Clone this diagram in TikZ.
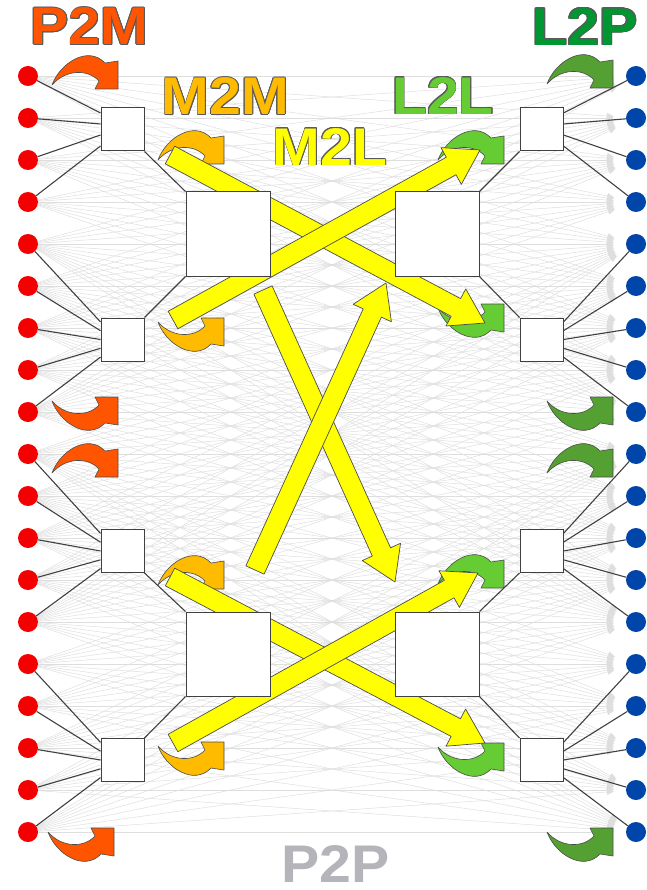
\documentclass[tikz,border=0pt]{standalone}
\usepackage{fontspec}
\setmainfont{Liberation Sans}
\usepackage{graphicx}
\usepackage{contour}
\contourlength{0.7pt}
\usetikzlibrary{arrows.meta,calc,backgrounds}

\definecolor{p2mcol}{RGB}{255,85,0}
\definecolor{m2mcol}{RGB}{255,187,0}
\definecolor{m2lcol}{RGB}{255,255,0}
\definecolor{l2lcol}{RGB}{102,204,51}
\definecolor{l2pcol}{RGB}{0,150,50}
\definecolor{l2phook}{RGB}{85,160,50}
\definecolor{p2pcol}{RGB}{180,180,186}
\definecolor{srccol}{RGB}{245,0,0}
\definecolor{trgcol}{RGB}{0,70,170}

% curved operator arrow, local size 66 x 34
\tikzset{
  pics/hook/.style={code={
    \filldraw[fill=#1, draw=black!70, line width=0.6pt, line join=round]
      (0,30) .. controls (8,8) and (36,-10) .. (53,8) -- (66,6) -- (66,34)
      -- (43,34) -- (47,26) .. controls (36,14) and (14,14) .. (0,30) -- cycle;
  }},
}

% fat M2L arrow from #1 to #2
\newcommand{\mtol}[2]{%
  \coordinate (hb) at ($(#2)!33pt!(#1)$);
  \filldraw[m2l] ($(#1)!10pt!90:(#2)$) -- ($(hb)!10pt!-90:(#1)$)
    -- ($(hb)!21pt!-90:(#1)$) -- (#2) -- ($(hb)!21pt!90:(#1)$)
    -- ($(hb)!10pt!90:(#1)$) -- ($(#1)!10pt!-90:(#2)$) -- cycle;
}
% outlined operator name
\newcommand{\opname}[1]{\scalebox{1.08}[1]{\contour{black!65}{#1}}}

\begin{document}
\begin{tikzpicture}[x=1pt, y=-1pt,
  part/.style={circle, minimum size=20pt, inner sep=0pt},
  leaf/.style={draw=black!75, fill=white, minimum size=43pt, inner sep=0pt, line width=1pt},
  cell/.style={leaf, minimum size=84pt},
  tree/.style={black!75, line width=1.1pt},
  p2p/.style={black!13, line width=0.5pt, -{Triangle[length=7pt,width=6pt]}, shorten >=12pt},
  m2l/.style={fill=m2lcol, draw=black!70, line width=0.7pt, line join=round},
  lbl/.style={inner sep=0pt, font=\fontsize{53}{53}\selectfont\bfseries}]
\useasboundingbox (0,0) rectangle (646,890);

% particles: sources left, targets right
\foreach \i in {0,...,18} {
  \node[part, fill=srccol] (l\i) at (28,{76+42*\i}) {};
  \node[part, fill=trgcol] (r\i) at (636,{76+42*\i}) {};
}

% leaves and upper level cells
\foreach \b/\y in {1/129.5, 2/339.5, 3/551, 4/760} {
  \node[leaf] (lb\b) at (122.5,\y) {};
  \node[leaf] (rb\b) at (541.5,\y) {};
}
\node[cell] (m1) at (228,234) {};
\node[cell] (m2) at (228,654) {};
\node[cell] (loc1) at (437,234) {};
\node[cell] (loc2) at (437,654) {};

% particles to leaves
\foreach \b/\first/\n in {1/0/4, 2/4/5, 3/9/5, 4/14/5} {
  \pgfmathtruncatemacro\last{\n-1}
  \foreach \k in {0,...,\last} {
    \pgfmathtruncatemacro\i{\first+\k}
    \pgfmathsetmacro\pos{(\k+0.5)/\n}
    \draw[tree] (l\i) -- ($(lb\b.north west)!\pos!(lb\b.south west)$);
    \draw[tree] (r\i) -- ($(rb\b.north east)!\pos!(rb\b.south east)$);
  }
}

% leaves to cells
\draw[tree] (lb1.south east) -- (m1.north west);
\draw[tree] (lb2.north east) -- (m1.south west);
\draw[tree] (lb3.south east) -- (m2.north west);
\draw[tree] (lb4.north east) -- (m2.south west);
\draw[tree] (loc1.north east) -- (rb1.south west);
\draw[tree] (loc1.south east) -- (rb2.north west);
\draw[tree] (loc2.north east) -- (rb3.south west);
\draw[tree] (loc2.south east) -- (rb4.north west);

\begin{scope}[on background layer]
% P2P: near field, neighbouring leaves
\foreach \i in {0,...,18} {
  \pgfmathtruncatemacro\gi{\i<4 ? 0 : int((\i-4)/5)+1}
  \foreach \j in {0,...,18} {
    \pgfmathtruncatemacro\gj{\j<4 ? 0 : int((\j-4)/5)+1}
    \pgfmathtruncatemacro\dg{abs(\gi-\gj)}
    \ifnum\dg<2 \draw[p2p] (l\i) -- (r\j); \fi
  }
}

% P2M
\pic at (52,55) {hook=p2mcol};
\pic[yscale=-1] at (52,431) {hook=p2mcol};
\pic at (52,443) {hook=p2mcol};
\pic[yscale=-1] at (48,862) {hook=p2mcol};
% M2M
\pic at (158,130) {hook=m2mcol};
\pic[yscale=-1] at (158,352) {hook=m2mcol};
\pic at (158,555) {hook=m2mcol};
\pic[yscale=-1] at (158,776) {hook=m2mcol};
% L2L
\pic at (438,130) {hook=l2lcol};
\pic[yscale=-1] at (438,338) {hook=l2lcol};
\pic at (438,554) {hook=l2lcol};
\pic[yscale=-1] at (438,777) {hook=l2lcol};
% L2P
\pic at (547,54) {hook=l2phook};
\pic[yscale=-1] at (547,431) {hook=l2phook};
\pic at (547,443) {hook=l2phook};
\pic[yscale=-1] at (547,862) {hook=l2phook};

% M2L
\coordinate (s1) at (170,155); \coordinate (t1) at (485,323);
\coordinate (s2) at (173,320); \coordinate (t2) at (480,150);
\coordinate (s3) at (263,290); \coordinate (t3) at (395,582);
\coordinate (s4) at (255,570); \coordinate (t4) at (386,283);
\coordinate (s5) at (170,577); \coordinate (t5) at (485,743);
\coordinate (s6) at (173,743); \coordinate (t6) at (478,573);
\mtol{s1}{t1}
\mtol{s2}{t2}
\mtol{s3}{t3}
\mtol{s4}{t4}
\mtol{s5}{t5}
\mtol{s6}{t6}
\end{scope}

% operator names
\node[lbl, text=p2mcol] (tp2m) at (89.5,26.5) {\opname{P2M}};
\node[lbl, text=m2mcol] (tm2m) at (225.5,96.5) {\opname{M2M}};
\node[lbl, text=m2lcol] (tm2l) at (330,147) {\opname{M2L}};
\node[lbl, text=l2lcol] (tl2l) at (443,96) {\opname{L2L}};
\node[lbl, text=l2pcol] (tl2p) at (585,27) {\opname{L2P}};
\node[lbl, text=p2pcol] (tp2p) at (335.5,864) {\scalebox{1.08}[1]{P2P}};
\end{tikzpicture}
\end{document}
